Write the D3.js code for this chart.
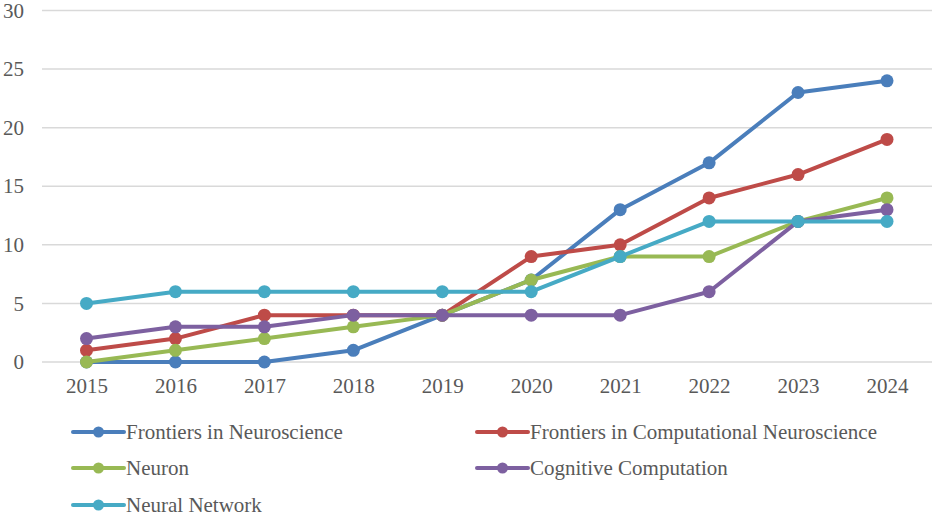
<!DOCTYPE html>
<html>
<head>
<meta charset="utf-8">
<script src="https://d3js.org/d3.v7.min.js"></script>
</head>
<body style="margin:0; background:#fff">
<div id="grafico"></div>
<script>
// datos del gráfico
var years = ["2015", "2016", "2017", "2018", "2019", "2020", "2021", "2022", "2023", "2024"];
var seriesNames = ["Frontiers in Neuroscience", "Frontiers in Computational Neuroscience", "Neuron", "Cognitive Computation", "Neural Network"];
var frontiersNeuro = [0, 0, 0, 1, 4, 7, 13, 17, 23, 24];
var frontiersComp = [1, 2, 4, 4, 4, 9, 10, 14, 16, 19];
var neuron = [0, 1, 2, 3, 4, 7, 9, 9, 12, 14];
var cognitive = [2, 3, 3, 4, 4, 4, 4, 6, 12, 13];
var neuralNetwork = [5, 6, 6, 6, 6, 6, 9, 12, 12, 12];
var yTicks = [0, 5, 10, 15, 20, 25, 30];

var colors = ["#4A7EBB", "#BE4B48", "#98B954", "#7D60A0", "#46AAC5"];
var allValues = [frontiersNeuro, frontiersComp, neuron, cognitive, neuralNetwork];

var FONT = "Liberation Serif";
var FONT_SIZE = 21;
var TEXT_COLOR = "#595959";

var width = 935, height = 517;
var svg = d3.select("#grafico").append("svg")
  .attr("width", width)
  .attr("height", height)
  .attr("font-family", FONT);

// escalas
var x = d3.scalePoint().domain(years).range([86.5, 887]);
var y = d3.scaleLinear().domain([0, 30]).range([362, 10.5]);

// líneas de cuadrícula
svg.selectAll(".grid")
  .data(yTicks)
  .enter()
  .append("line")
  .attr("x1", 42)
  .attr("x2", 932)
  .attr("y1", function(d) { return y(d); })
  .attr("y2", function(d) { return y(d); })
  .attr("stroke", "#D9D9D9")
  .attr("stroke-width", 1.5);

// eje y
var yAxis = svg.append("g")
  .attr("transform", "translate(24,0)")
  .call(d3.axisLeft(y).tickValues(yTicks).tickSize(0).tickPadding(0));
yAxis.attr("font-family", FONT).attr("font-size", FONT_SIZE);
yAxis.select(".domain").remove();
yAxis.selectAll("text")
  .attr("font-family", FONT)
  .attr("font-size", FONT_SIZE)
  .attr("fill", TEXT_COLOR);

// eje x
var xAxis = svg.append("g")
  .attr("transform", "translate(0,378)")
  .call(d3.axisBottom(x).tickSize(0).tickPadding(0));
xAxis.attr("font-family", FONT).attr("font-size", FONT_SIZE);
xAxis.select(".domain").remove();
xAxis.selectAll("text")
  .attr("font-family", FONT)
  .attr("font-size", FONT_SIZE)
  .attr("fill", TEXT_COLOR);

// series
var line = d3.line()
  .x(function(d, i) { return x(years[i]); })
  .y(function(d) { return y(d); });

allValues.forEach(function(vals, s) {
  svg.append("path")
    .datum(vals)
    .attr("d", line)
    .attr("fill", "none")
    .attr("stroke", colors[s])
    .attr("stroke-width", 4)
    .attr("stroke-linejoin", "round");

  svg.selectAll(".pt" + s)
    .data(vals)
    .enter()
    .append("circle")
    .attr("cx", function(d, i) { return x(years[i]); })
    .attr("cy", function(d) { return y(d); })
    .attr("r", 6.5)
    .attr("fill", colors[s]);
});

// leyenda
var legendPos = [
  { x: 73, y: 432 }, { x: 477, y: 432 },
  { x: 73, y: 468 }, { x: 477, y: 468 },
  { x: 73, y: 505 }
];

seriesNames.forEach(function(name, s) {
  var p = legendPos[s];
  var g = svg.append("g").attr("transform", "translate(" + p.x + "," + p.y + ")");
  g.append("line")
    .attr("x1", 0).attr("x2", 51)
    .attr("y1", 0).attr("y2", 0)
    .attr("stroke", colors[s])
    .attr("stroke-width", 4)
    .attr("stroke-linecap", "round");
  g.append("circle")
    .attr("cx", 25.5).attr("cy", 0)
    .attr("r", 5.5)
    .attr("fill", colors[s]);
  g.append("text")
    .attr("x", 53)
    .attr("y", 0)
    .attr("dy", "0.35em")
    .attr("font-family", FONT)
    .attr("font-size", FONT_SIZE)
    .attr("fill", TEXT_COLOR)
    .text(name);
});
</script>
</body>
</html>
